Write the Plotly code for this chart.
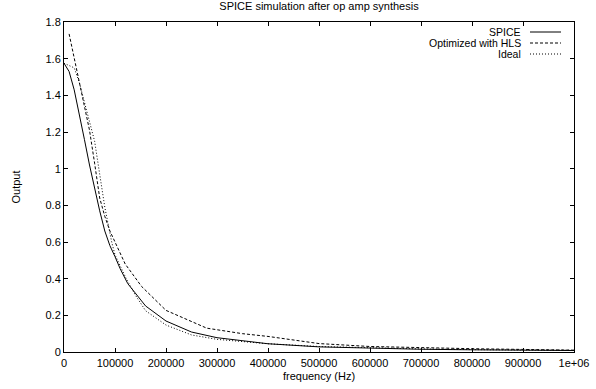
import plotly.graph_objects as go

# ---- data ----
spice_freq = [0, 10000, 20000, 30000, 40000, 50000, 60000, 70000, 80000, 90000, 100000, 110000,
              125000, 160000, 200000, 250000, 300000, 400000, 500000, 600000, 700000, 800000, 900000, 1000000]
spice_out = [1.575, 1.53, 1.43, 1.30, 1.16, 1.02, 0.89, 0.77, 0.66, 0.58, 0.52, 0.455,
             0.373, 0.251, 0.169, 0.109, 0.078, 0.045, 0.028, 0.02, 0.015, 0.012, 0.01, 0.008]

hls_freq = [10000, 20000, 30000, 40000, 50000, 60000, 70000, 80000, 90000, 100000, 120000,
            152000, 200000, 280000, 350000, 400000, 460000, 500000, 600000, 700000, 800000, 900000, 1000000]
hls_out = [1.735, 1.60, 1.47, 1.34, 1.21, 1.03, 0.84, 0.74, 0.66, 0.60, 0.48,
           0.358, 0.227, 0.13, 0.10, 0.085, 0.062, 0.046, 0.03, 0.022, 0.018, 0.014, 0.01]

ideal_freq = [0, 20000, 30000, 40000, 60000, 70000, 80000, 93500, 100000, 122000, 140000, 160000,
              200000, 250000, 300000, 350000, 400000, 500000, 600000, 700000, 800000, 900000, 1000000]
ideal_out = [1.575, 1.55, 1.47, 1.36, 1.15, 0.97, 0.79, 0.60, 0.53, 0.40, 0.31, 0.225,
             0.147, 0.093, 0.069, 0.057, 0.045, 0.03, 0.022, 0.017, 0.013, 0.011, 0.009]

x_ticks = [0, 100000, 200000, 300000, 400000, 500000, 600000, 700000, 800000, 900000, 1000000]
x_tick_labels = ["0", "100000", "200000", "300000", "400000", "500000", "600000",
                 "700000", "800000", "900000", "1e+06"]
y_ticks = [0, 0.2, 0.4, 0.6, 0.8, 1.0, 1.2, 1.4, 1.6, 1.8]
y_tick_labels = ["0", "0.2", "0.4", "0.6", "0.8", "1", "1.2", "1.4", "1.6", "1.8"]

series_names = ["SPICE", "Optimized with HLS", "Ideal"]
series_dash = ["solid", "3px,2px", "1px,2px"]

FONT = "Liberation Sans, Arial, sans-serif"

fig = go.Figure()
for name, xs, ys, dash in zip(series_names,
                              [spice_freq, hls_freq, ideal_freq],
                              [spice_out, hls_out, ideal_out],
                              series_dash):
    fig.add_trace(go.Scatter(x=xs, y=ys, mode="lines", name=name,
                             line=dict(color="black", width=1, dash=dash),
                             showlegend=False))

W, H = 596, 389
ml, mt = 64, 22
mr = W - 574
mb = H - 352
pw, ph = W - ml - mr, H - mt - mb

# gnuplot-style legend: right-aligned text, then line sample
rows_y = [32, 43, 54]
for name, dash, ry in zip(series_names, series_dash, rows_y):
    yp = 1 - (ry - mt) / ph
    x_text = (522 - ml) / pw
    x0 = (530 - ml) / pw
    x1 = (561 - ml) / pw
    fig.add_annotation(x=x_text, y=yp, xref="paper", yref="paper", text=name,
                       showarrow=False, xanchor="right", yanchor="middle",
                       borderpad=0,
                       font=dict(family=FONT, size=10.5, color="black"))
    fig.add_shape(type="line", xref="paper", yref="paper", x0=x0, x1=x1, y0=yp, y1=yp,
                  line=dict(color="black", width=1, dash=dash))

axis_common = dict(showgrid=False, zeroline=False, showline=True, linecolor="black",
                   linewidth=1, mirror="ticks", ticks="inside", ticklen=4,
                   tickcolor="black", tickwidth=1, automargin=False,
                   tickfont=dict(family=FONT, size=11, color="black"))

fig.update_xaxes(range=[0, 1000000], tickvals=x_ticks, ticktext=x_tick_labels,
                 ticklabelstandoff=1,
                 title=dict(text="frequency (Hz)", standoff=4,
                            font=dict(family=FONT, size=11, color="black")),
                 **axis_common)
fig.update_yaxes(range=[0, 1.8], tickvals=y_ticks, ticktext=y_tick_labels,
                 title=dict(text="Output", standoff=22,
                            font=dict(family=FONT, size=11, color="black")),
                 **axis_common)

fig.update_layout(
    width=W, height=H,
    margin=dict(l=ml, r=mr, t=mt, b=mb, pad=0, autoexpand=False),
    paper_bgcolor="white", plot_bgcolor="white",
    title=dict(text="SPICE simulation after op amp synthesis", x=(ml + pw / 2) / W,
               xanchor="center", y=1 - 6 / H, yanchor="middle", yref="container",
               font=dict(family=FONT, size=11, color="black")),
    font=dict(family=FONT, size=11, color="black"),
)

fig.write_html("out.html", config={"displayModeBar": False},
               post_script="document.body.style.margin='0';document.body.style.padding='0';")
